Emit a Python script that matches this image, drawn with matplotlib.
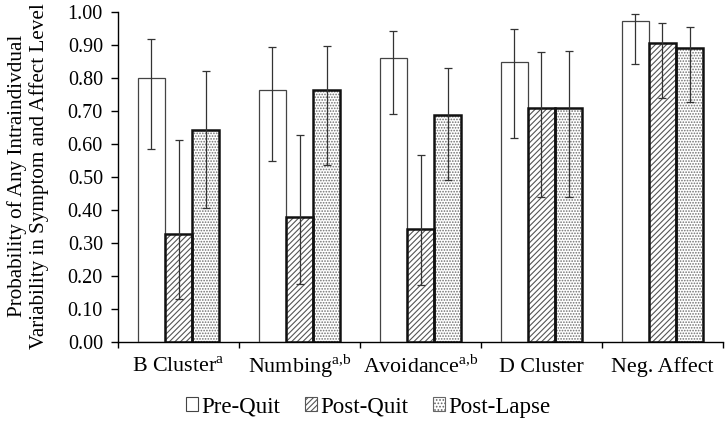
import matplotlib
matplotlib.use("Agg")
import matplotlib.pyplot as plt
import numpy as np
from matplotlib.patches import Patch

plt.rcParams['font.family'] = ['Liberation Serif', 'DejaVu Serif']
plt.rcParams['mathtext.fontset'] = 'custom'
plt.rcParams['mathtext.rm'] = 'Liberation Serif'
plt.rcParams['hatch.linewidth'] = 0.8

categories = ["B Cluster$^{\\mathrm{a}}$", "Numbing$^{\\mathrm{a{,}b}}$", "Avoidance$^{\\mathrm{a{,}b}}$",
              "D Cluster", "Neg. Affect"]
series = ["Pre-Quit", "Post-Quit", "Post-Lapse"]
pre_quit = [0.80, 0.765, 0.86, 0.848, 0.974]
post_quit = [0.327, 0.378, 0.343, 0.709, 0.908]
post_lapse = [0.642, 0.763, 0.688, 0.709, 0.890]
pre_lo = [0.585, 0.548, 0.690, 0.619, 0.842]
pre_hi = [0.919, 0.895, 0.944, 0.950, 0.996]
postq_lo = [0.131, 0.176, 0.171, 0.440, 0.739]
postq_hi = [0.612, 0.628, 0.567, 0.879, 0.968]
postl_lo = [0.405, 0.536, 0.492, 0.440, 0.728]
postl_hi = [0.821, 0.898, 0.832, 0.882, 0.956]

values = [pre_quit, post_quit, post_lapse]
lows = [pre_lo, postq_lo, postl_lo]
highs = [pre_hi, postq_hi, postl_hi]
hatches = [None, '//////', '......']
hatch_colors = ['none', '#555555', '#707070']
edge_lw = [0.9, 1.8, 1.8]
edge_col = ['#444444', '#111111', '#111111']

fig = plt.figure(figsize=(7.25, 4.21), dpi=100)
ax = fig.add_axes([0.163, 0.188, 0.834, 0.783])

x = np.arange(len(categories))
w = 0.225
for i in range(3):
    pos = x + (i - 1) * w
    v = np.array(values[i])
    if hatches[i]:
        ax.bar(pos, v, w, color='white', edgecolor=hatch_colors[i], hatch=hatches[i], linewidth=0, zorder=2)
    else:
        ax.bar(pos, v, w, color='white', linewidth=0, zorder=2)
    ax.bar(pos, v, w, color='none', edgecolor=edge_col[i], linewidth=edge_lw[i], zorder=3)
    lo = v - np.array(lows[i])
    hi = np.array(highs[i]) - v
    ax.errorbar(pos, v, yerr=[lo, hi], fmt='none', ecolor='#333333', elinewidth=0.9,
                capsize=3, capthick=0.9, zorder=4)

ax.set_xlim(-0.5, len(categories) - 0.5)
ax.set_ylim(0, 1.0)
ax.set_yticks(np.arange(0, 1.01, 0.1))
ax.set_yticklabels([f"{t:.2f}" for t in np.arange(0, 1.01, 0.1)], fontsize=14.5)
ax.set_xticks(x)
ax.set_xticklabels(categories, fontsize=15.8)
for lbl in ax.get_xticklabels():
    lbl.set_va('baseline')
ax.set_xticks(np.arange(-0.5, len(categories), 1.0), minor=True)
ax.tick_params(axis='x', which='major', length=0, pad=22)
ax.tick_params(axis='x', which='minor', length=4.5, width=1, direction='out')
ax.tick_params(axis='y', length=5, width=1, direction='out', pad=6)
for s in ['top', 'right']:
    ax.spines[s].set_visible(False)
ax.spines['left'].set_linewidth(1)
ax.spines['bottom'].set_linewidth(1)

fig.text(28 / 725, 1 - 176 / 421,
         "Probability of Any Intraindivdual\nVariability in Symptom and Affect Level",
         rotation=90, ha='center', va='center', fontsize=15.2, linespacing=1.2)

handles = [
    Patch(facecolor='white', edgecolor='#444444', linewidth=0.8),
    Patch(facecolor='white', edgecolor='#555555', hatch='//////', linewidth=0.8),
    Patch(facecolor='white', edgecolor='#666666', hatch='.....', linewidth=0.8),
]
fig.legend(handles, series, loc='center', bbox_to_anchor=(0.508, 1 - 407 / 421), ncol=3,
           frameon=False, fontsize=16.5, handlelength=0.5, handleheight=0.55,
           handletextpad=0.15, columnspacing=1.1, borderpad=0, borderaxespad=0)

fig.savefig("out.png", dpi=100)
